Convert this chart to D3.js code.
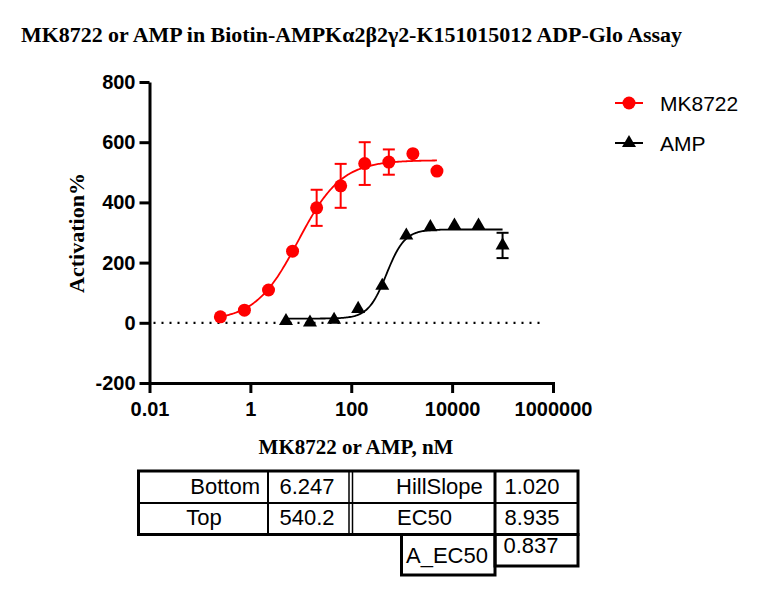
<!DOCTYPE html>
<html>
<head>
<meta charset="utf-8">
<script src="https://cdn.jsdelivr.net/npm/d3@7"></script>
<style>
  body { margin: 0; background: #fff; }
  svg { display: block; }
</style>
</head>
<body>
<div id="chart"></div>
<script>
// concentrations (nM), 3-fold dilutions
var mkConc = [0.254, 0.762, 2.29, 6.86, 20.6, 61.7, 185, 556, 1667, 5000];
var mkAct = [20, 42, 109, 238, 382, 455, 529, 534, 562, 504];
var mkErr = [0, 0, 0, 0, 60, 73, 71, 42, 0, 0];

var ampConc = [5.08, 15.2, 45.7, 137, 412, 1235, 3704, 11111, 33333, 100000];
var ampAct = [6, 1, 10, 46, 123, 290, 318, 323, 323, 257];
var ampErr = [0, 0, 0, 0, 0, 0, 0, 0, 0, 42];

// 4PL fit parameters: bottom, top, EC50, hill
var mkFit = [6.247, 540.2, 8.935, 1.020];
var ampFit = [14, 310, 500, 2.4];

var seriesNames = ["MK8722", "AMP"];
var seriesColors = ["#ff0000", "#000000"];

var xTicks = [0.01, 1, 100, 10000, 1000000];
var xTickLabels = ["0.01", "1", "100", "10000", "1000000"];
var yTicks = [-200, 0, 200, 400, 600, 800];
var yTickLabels = ["-200", "0", "200", "400", "600", "800"];

var tableLabels = [["Bottom", "Top"], ["HillSlope", "EC50"], ["A_EC50"]];
var tableValues = [["6.247", "540.2"], ["1.020", "8.935"], ["0.837"]];

var W = 763, H = 591;
var sans = "'Liberation Sans', Arial, sans-serif";
var serif = "'Liberation Serif', 'Times New Roman', serif";

var svg = d3.select("#chart").append("svg")
  .attr("width", W)
  .attr("height", H);

var x = d3.scaleLog().domain([0.01, 1000000]).range([149.5, 553]);
var y = d3.scaleLinear().domain([-200, 800]).range([383, 82]);

// title
svg.append("text")
  .attr("x", 21)
  .attr("y", 42)
  .attr("textLength", 661)
  .attr("lengthAdjust", "spacingAndGlyphs")
  .style("font-family", serif)
  .style("font-weight", "bold")
  .style("font-size", "20px")
  .text("MK8722 or AMP in Biotin-AMPKα2β2γ2-K151015012 ADP-Glo Assay");

// dotted zero line
svg.append("line")
  .attr("x1", x(0.01) + 4)
  .attr("x2", x(700000))
  .attr("y1", y(0))
  .attr("y2", y(0))
  .attr("stroke", "#000")
  .attr("stroke-width", 2.2)
  .attr("stroke-dasharray", "2,6");

// axes
var yAxis = svg.append("g")
  .attr("transform", "translate(" + x(0.01) + ",0)")
  .call(d3.axisLeft(y)
    .tickValues(yTicks)
    .tickFormat(function(d, i) { return yTickLabels[i]; })
    .tickSize(10)
    .tickSizeOuter(0)
    .tickPadding(4));

var xAxis = svg.append("g")
  .attr("transform", "translate(0," + y(-200) + ")")
  .call(d3.axisBottom(x)
    .tickValues(xTicks)
    .tickFormat(function(d, i) { return xTickLabels[i]; })
    .tickSize(10)
    .tickSizeOuter(0)
    .tickPadding(9));

[yAxis, xAxis].forEach(function(ax) {
  ax.selectAll("path, line").attr("stroke", "#000").attr("stroke-width", 3);
  ax.selectAll("text")
    .style("font-family", sans)
    .style("font-weight", "bold")
    .style("font-size", "20px")
    .attr("fill", "#000");
});
xAxis.select("path").attr("stroke-linecap", "square");

// axis titles
svg.append("text")
  .attr("x", 356)
  .attr("y", 454)
  .style("text-anchor", "middle")
  .style("font-family", serif)
  .style("font-weight", "bold")
  .style("font-size", "21px")
  .text("MK8722 or AMP, nM");

svg.append("text")
  .attr("transform", "translate(84,233) rotate(-90)")
  .style("text-anchor", "middle")
  .style("font-family", serif)
  .style("font-weight", "bold")
  .style("font-size", "22px")
  .text("Activation%");

// fitted curves
function fourPL(p, c) {
  return p[0] + (p[1] - p[0]) / (1 + Math.pow(p[2] / c, p[3]));
}

function curvePoints(p, lo, hi) {
  var pts = [];
  var a = Math.log10(lo), b = Math.log10(hi);
  for (var i = 0; i <= 200; i++) {
    var c = Math.pow(10, a + (b - a) * i / 200);
    pts.push([c, fourPL(p, c)]);
  }
  return pts;
}

var line = d3.line()
  .x(function(d) { return x(d[0]); })
  .y(function(d) { return y(d[1]); });

var series = [
  {conc: mkConc, act: mkAct, err: mkErr, fit: mkFit},
  {conc: ampConc, act: ampAct, err: ampErr, fit: ampFit}
];

series.forEach(function(s, k) {
  var col = seriesColors[k];
  svg.append("path")
    .datum(curvePoints(s.fit, d3.min(s.conc), d3.max(s.conc)))
    .attr("d", line)
    .attr("fill", "none")
    .attr("stroke", col)
    .attr("stroke-width", 1.8);

  var pts = s.conc.map(function(c, i) { return {c: c, v: s.act[i], e: s.err[i]}; });

  // error bars
  var eb = svg.append("g")
    .attr("stroke", col)
    .attr("stroke-width", 2)
    .selectAll("g")
    .data(pts.filter(function(d) { return d.e > 0; }))
    .enter().append("g");
  eb.append("line")
    .attr("x1", function(d) { return x(d.c); })
    .attr("x2", function(d) { return x(d.c); })
    .attr("y1", function(d) { return y(d.v - d.e); })
    .attr("y2", function(d) { return y(d.v + d.e); });
  [-1, 1].forEach(function(sg) {
    eb.append("line")
      .attr("x1", function(d) { return x(d.c) - 6; })
      .attr("x2", function(d) { return x(d.c) + 6; })
      .attr("y1", function(d) { return y(d.v + sg * d.e); })
      .attr("y2", function(d) { return y(d.v + sg * d.e); });
  });

  // markers
  if (k === 0) {
    svg.append("g").selectAll("circle")
      .data(pts).enter().append("circle")
      .attr("cx", function(d) { return x(d.c); })
      .attr("cy", function(d) { return y(d.v); })
      .attr("r", 6.5)
      .attr("fill", col);
  } else {
    svg.append("g").selectAll("path")
      .data(pts).enter().append("path")
      .attr("d", d3.symbol().type(d3.symbolTriangle).size(85))
      .attr("transform", function(d) { return "translate(" + x(d.c) + "," + y(d.v) + ")"; })
      .attr("fill", col);
  }
});

// legend
var legend = svg.selectAll(".legend")
  .data(seriesNames)
  .enter().append("g")
  .attr("class", "legend")
  .attr("transform", function(d, i) { return "translate(615," + (103 + i * 40) + ")"; });

legend.append("line")
  .attr("x1", 0).attr("x2", 28)
  .attr("stroke", function(d, i) { return seriesColors[i]; })
  .attr("stroke-width", 2);

legend.append("path")
  .attr("transform", "translate(14,0)")
  .attr("d", function(d, i) {
    return d3.symbol().type(i === 0 ? d3.symbolCircle : d3.symbolTriangle).size(i === 0 ? 133 : 85)();
  })
  .attr("fill", function(d, i) { return seriesColors[i]; });

legend.append("text")
  .attr("x", 45)
  .attr("y", 8)
  .style("font-family", sans)
  .style("font-size", "21px")
  .text(function(d) { return d; });

// parameter table
var tbl = svg.append("g").attr("fill", "none").attr("stroke", "#000");
tbl.append("rect").attr("x", 138.5).attr("y", 471).attr("width", 439.5).attr("height", 63.5).attr("stroke-width", 3);
tbl.append("line").attr("x1", 138.5).attr("x2", 578).attr("y1", 503).attr("y2", 503).attr("stroke-width", 2);
tbl.append("line").attr("x1", 268).attr("x2", 268).attr("y1", 471).attr("y2", 534.5).attr("stroke-width", 2);
tbl.append("line").attr("x1", 349).attr("x2", 349).attr("y1", 471).attr("y2", 534.5).attr("stroke-width", 1.5);
tbl.append("line").attr("x1", 352.5).attr("x2", 352.5).attr("y1", 471).attr("y2", 534.5).attr("stroke-width", 1.5);
tbl.append("line").attr("x1", 495).attr("x2", 495).attr("y1", 471).attr("y2", 534.5).attr("stroke-width", 3);
tbl.append("rect").attr("x", 401.5).attr("y", 534.5).attr("width", 93.5).attr("height", 40.5).attr("stroke-width", 3);
tbl.append("rect").attr("x", 495).attr("y", 534.5).attr("width", 83).attr("height", 31.5).attr("stroke-width", 3);

var cellText = [
  {t: tableLabels[0][0], x: 260, y: 494, a: "end"},
  {t: tableLabels[0][1], x: 204, y: 525, a: "middle"},
  {t: tableValues[0][0], x: 307, y: 494, a: "middle"},
  {t: tableValues[0][1], x: 307, y: 525, a: "middle"},
  {t: tableLabels[1][0], x: 396, y: 494, a: "start"},
  {t: tableLabels[1][1], x: 397, y: 525, a: "start"},
  {t: tableValues[1][0], x: 532, y: 494, a: "middle"},
  {t: tableValues[1][1], x: 532, y: 525, a: "middle"},
  {t: tableLabels[2][0], x: 447, y: 563, a: "middle"},
  {t: tableValues[2][0], x: 531, y: 553, a: "middle"}
];

svg.append("g").selectAll("text")
  .data(cellText).enter().append("text")
  .attr("x", function(d) { return d.x; })
  .attr("y", function(d) { return d.y; })
  .style("text-anchor", function(d) { return d.a; })
  .style("font-family", sans)
  .style("font-size", "22px")
  .text(function(d) { return d.t; });
</script>
</body>
</html>
